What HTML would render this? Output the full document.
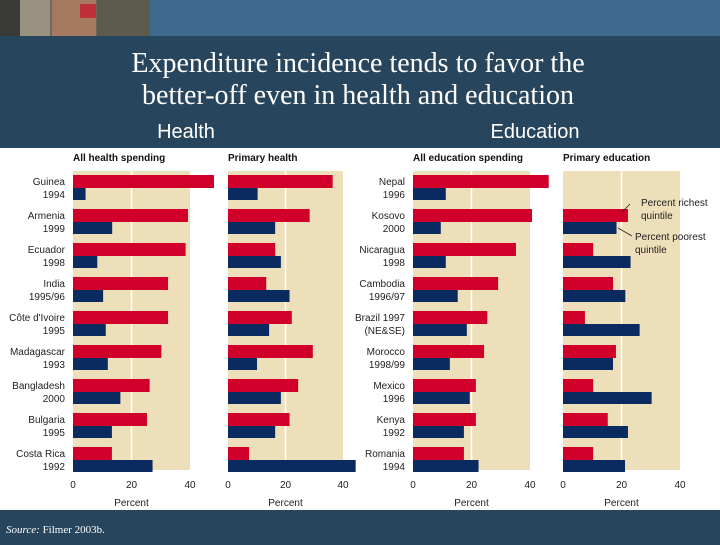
<!DOCTYPE html>
<html><head><meta charset="utf-8">
<style>
body{margin:0;width:720px;height:540px;overflow:hidden;background:#27455c;font-family:"Liberation Sans",sans-serif}
</style></head><body>
<svg width="720" height="540" viewBox="0 0 720 540" xmlns="http://www.w3.org/2000/svg">
<rect x="0" y="0" width="720" height="540" fill="#27455c"/>
<rect x="0" y="0" width="720" height="36" fill="#3d6a8e"/>
<g>
<rect x="0" y="0" width="150" height="36" fill="#6b6a5c"/>
<rect x="0" y="0" width="20" height="36" fill="#3a3a38"/>
<rect x="20" y="0" width="30" height="36" fill="#9a9280"/>
<rect x="52" y="0" width="44" height="36" fill="#a57a60"/>
<rect x="80" y="4" width="16" height="14" fill="#c0303a"/>
<rect x="97" y="0" width="53" height="36" fill="#5d5a4e"/>
</g>
<text x="358" y="72" text-anchor="middle" font-family="Liberation Serif,serif" font-size="28" fill="#fff">Expenditure incidence tends to favor the</text>
<text x="358" y="104" text-anchor="middle" font-family="Liberation Serif,serif" font-size="28" fill="#fff">better-off even in health and education</text>
<text x="186" y="138" text-anchor="middle" font-size="20" fill="#fff">Health</text>
<text x="535" y="138" text-anchor="middle" font-size="20" fill="#fff">Education</text>
<rect x="0" y="148" width="720" height="362" fill="#fff"/>
<g id="charts"></g>
<g font-size="10" fill="#222">
<text x="641" y="206">Percent richest</text>
<text x="641" y="219">quintile</text>
<line x1="630" y1="204" x2="622" y2="212" stroke="#222" stroke-width="0.8"/>
<text x="635" y="240">Percent poorest</text>
<text x="635" y="253">quintile</text>
<line x1="618" y1="228" x2="632" y2="236" stroke="#222" stroke-width="0.8"/>
</g>
<text x="6" y="533" font-family="Liberation Serif,serif" font-size="11" fill="#fff"><tspan font-style="italic">Source:</tspan> Filmer 2003b.</text>
</svg>
<script>
const healthCountries=[["Guinea","1994"],["Armenia","1999"],["Ecuador","1998"],["India","1995/96"],["Côte d'Ivoire","1995"],["Madagascar","1993"],["Bangladesh","2000"],["Bulgaria","1995"],["Costa Rica","1992"]];
const eduCountries=[["Nepal","1996"],["Kosovo","2000"],["Nicaragua","1998"],["Cambodia","1996/97"],["Brazil 1997","(NE&SE)"],["Morocco","1998/99"],["Mexico","1996"],["Kenya","1992"],["Romania","1994"]];
const allHealthRich=[48.2,39.3,38.5,32.5,32.5,30.2,26.2,25.3,13.3];
const allHealthPoor=[4.3,13.4,8.3,10.3,11.2,11.9,16.2,13.3,27.2];
const primHealthRich=[36.4,28.4,16.4,13.3,22.2,29.5,24.4,21.4,7.3];
const primHealthPoor=[10.3,16.4,18.4,21.4,14.3,10.1,18.4,16.4,44.4];
const allEduRich=[46.4,40.7,35.2,29.1,25.4,24.3,21.5,21.5,17.4];
const allEduPoor=[11.2,9.5,11.2,15.3,18.4,12.6,19.4,17.4,22.4];
const primEduRich=[null,22.2,10.3,17.1,7.5,18.1,10.3,15.3,10.3];
const primEduPoor=[null,18.3,23.1,21.3,26.2,17.1,30.3,22.2,21.2];
const tickValues=[0,20,40];
const NS="http://www.w3.org/2000/svg";
const root=document.getElementById('charts');
function mk(tag,attrs,parent){const e=document.createElementNS(NS,tag);for(const k in attrs)e.setAttribute(k,attrs[k]);parent.appendChild(e);return e;}
const panels=[
 {title:"All health spending",x0:73,x40:190,rich:allHealthRich,poor:allHealthPoor,labels:healthCountries,labelX:65,name:"all-health"},
 {title:"Primary health",x0:228,x40:343,rich:primHealthRich,poor:primHealthPoor,labels:null,name:"primary-health"},
 {title:"All education spending",x0:413,x40:530,rich:allEduRich,poor:allEduPoor,labels:eduCountries,labelX:405,name:"all-education"},
 {title:"Primary education",x0:563,x40:680,rich:primEduRich,poor:primEduPoor,labels:null,name:"primary-education"}
];
const yTop=171,yBot=470,pitch=34,firstY=175;
function yRich(i){return firstY+i*pitch;}
panels.forEach(p=>{
 const g=mk('g',{},root);
 
 
 const sx=v=>p.x0+(p.x40-p.x0)*v/40;
 const bg=mk('rect',{x:p.x0,y:yTop,width:p.x40-p.x0,height:yBot-yTop,fill:'#eddfb9'},g);
 
 
 const gl=mk('line',{x1:sx(20),x2:sx(20),y1:yTop,y2:yBot,stroke:'#fff','stroke-width':1.5},g);
 
 
 const t=mk('text',{x:p.x0,y:161,'font-size':10,'font-weight':'bold',fill:'#111'},g);
 t.textContent=p.title;
 
 
 p.rich.forEach((v,i)=>{
  if(v==null)return;
  const r=mk('rect',{x:p.x0,y:yRich(i),width:sx(v)-p.x0,height:13,fill:'#d0002a'},g);
  
  
 });
 p.poor.forEach((v,i)=>{
  if(v==null)return;
  const r=mk('rect',{x:p.x0,y:yRich(i)+13,width:sx(v)-p.x0,height:12,fill:'#0b2a5f'},g);
  
  
 });
 tickValues.forEach(v=>{
  const tt=mk('text',{x:sx(v),y:488,'font-size':10,'text-anchor':'middle',fill:'#222'},g);
  tt.textContent=v;
  
  
 });
 const xl=mk('text',{x:sx(20),y:506,'font-size':10,'text-anchor':'middle',fill:'#222'},g);
 xl.textContent='Percent';
 
 
 if(p.labels){
  p.labels.forEach((l,i)=>{
   const a=mk('text',{x:p.labelX,y:yRich(i)+10,'font-size':10,'text-anchor':'end',fill:'#222'},g);
   a.textContent=l[0];
   
   
   const b=mk('text',{x:p.labelX,y:yRich(i)+23,'font-size':10,'text-anchor':'end',fill:'#222'},g);
   b.textContent=l[1];
   
   
  });
 }
});
</script>
</body></html>
